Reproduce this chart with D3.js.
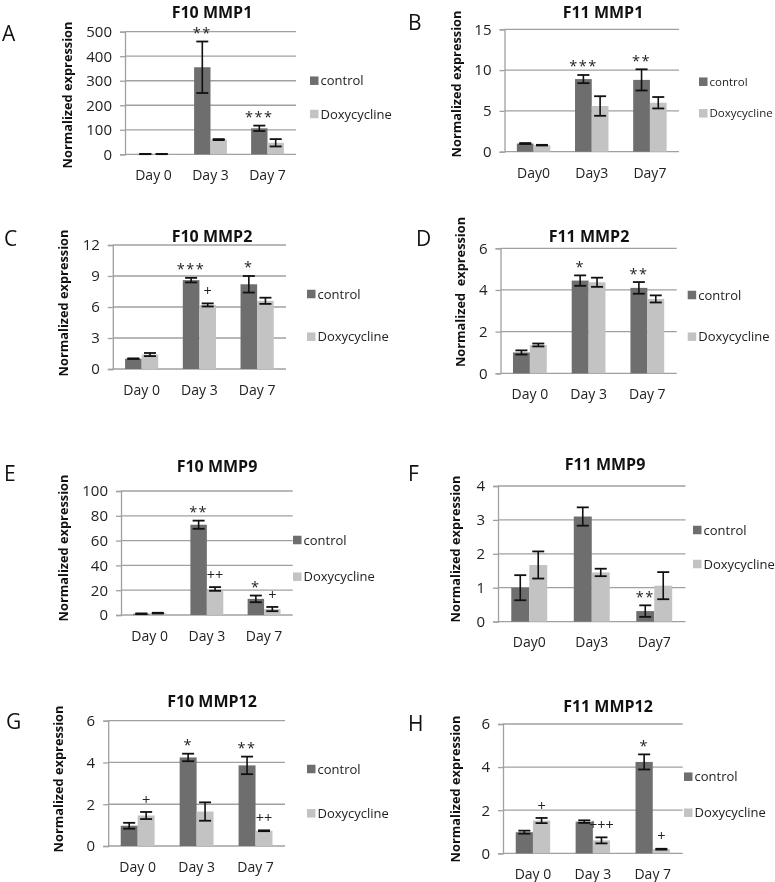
<!DOCTYPE html>
<html><head><meta charset="utf-8">
<script src="https://cdn.jsdelivr.net/npm/d3@7"></script>
<style>body{margin:0;background:#fff} svg{display:block; will-change: transform;}</style>
</head><body><svg id="c" width="775" height="882"></svg>
<script>
// ---------- data ----------
const seriesNames = ["control", "Doxycycline"];
const daysSpaced = ["Day 0", "Day 3", "Day 7"];
const daysCompact = ["Day0", "Day3", "Day7"];

// A  F10 MMP1
const f10Mmp1Ticks = [0, 100, 200, 300, 400, 500];
const f10Mmp1Ctrl = [1, 355, 106];
const f10Mmp1CtrlErr = [0.5, 105, 11];
const f10Mmp1Dox = [1, 60, 47];
const f10Mmp1DoxErr = [0.5, 2, 15];
const f10Mmp1Marks = [["", ""], ["**", ""], ["***", ""]];

// B  F11 MMP1
const f11Mmp1Ticks = [0, 5, 10, 15];
const f11Mmp1Ctrl = [1.0, 8.9, 8.8];
const f11Mmp1CtrlErr = [0.06, 0.5, 1.3];
const f11Mmp1Dox = [0.8, 5.6, 6.0];
const f11Mmp1DoxErr = [0.04, 1.2, 0.7];
const f11Mmp1Marks = [["", ""], ["***", ""], ["**", ""]];

// C  F10 MMP2
const f10Mmp2Ticks = [0, 3, 6, 9, 12];
const f10Mmp2Ctrl = [1.0, 8.6, 8.2];
const f10Mmp2CtrlErr = [0.03, 0.22, 0.8];
const f10Mmp2Dox = [1.4, 6.2, 6.6];
const f10Mmp2DoxErr = [0.15, 0.15, 0.3];
const f10Mmp2Marks = [["", ""], ["***", "+"], ["*", ""]];

// D  F11 MMP2
const f11Mmp2Ticks = [0, 2, 4, 6];
const f11Mmp2Ctrl = [1.0, 4.45, 4.1];
const f11Mmp2CtrlErr = [0.1, 0.25, 0.28];
const f11Mmp2Dox = [1.36, 4.37, 3.57];
const f11Mmp2DoxErr = [0.07, 0.22, 0.17];
const f11Mmp2Marks = [["", ""], ["*", ""], ["**", ""]];

// E  F10 MMP9
const f10Mmp9Ticks = [0, 20, 40, 60, 80, 100];
const f10Mmp9Ctrl = [1, 72.8, 13];
const f10Mmp9CtrlErr = [0.3, 3.3, 2.7];
const f10Mmp9Dox = [1.5, 21, 4.8];
const f10Mmp9DoxErr = [0.3, 1.5, 1.7];
const f10Mmp9Marks = [["", ""], ["**", "++"], ["*", "+"]];

// F  F11 MMP9
const f11Mmp9Ticks = [0, 1, 2, 3, 4];
const f11Mmp9Ctrl = [1.0, 3.1, 0.31];
const f11Mmp9CtrlErr = [0.37, 0.27, 0.17];
const f11Mmp9Dox = [1.67, 1.45, 1.06];
const f11Mmp9DoxErr = [0.4, 0.11, 0.4];
const f11Mmp9Marks = [["", ""], ["", ""], ["**", ""]];

// G  F10 MMP12
const f10Mmp12Ticks = [0, 2, 4, 6];
const f10Mmp12Ctrl = [0.97, 4.24, 3.86];
const f10Mmp12CtrlErr = [0.14, 0.18, 0.42];
const f10Mmp12Dox = [1.46, 1.65, 0.73];
const f10Mmp12DoxErr = [0.17, 0.44, 0.02];
const f10Mmp12Marks = [["", "+"], ["*", ""], ["**", "++"]];

// H  F11 MMP12
const f11Mmp12Ticks = [0, 2, 4, 6];
const f11Mmp12Ctrl = [0.98, 1.47, 4.24];
const f11Mmp12CtrlErr = [0.07, 0.06, 0.35];
const f11Mmp12Dox = [1.52, 0.6, 0.19];
const f11Mmp12DoxErr = [0.12, 0.14, 0.02];
const f11Mmp12Marks = [["", "+"], ["", "+++"], ["*", "+"]];

// ---------- layout ----------
const panels = [
  {letter:"A", lx:2, ly:33, title:"F10 MMP1", tx:212, ty:12, left:125, right:296, top:31.7, bottom:154.3,
   ticks:f10Mmp1Ticks, cats:daysSpaced, ctrl:f10Mmp1Ctrl, ctrlErr:f10Mmp1CtrlErr, dox:f10Mmp1Dox, doxErr:f10Mmp1DoxErr, marks:f10Mmp1Marks,
   yt:"Normalized expression", ytx:68, yty:95, legX:310, legY1:80.7, legY2:114, legFs:13},
  {letter:"B", lx:408, ly:22, title:"F11 MMP1", tx:603, ty:12, left:504.5, right:679, top:29.3, bottom:151.7,
   ticks:f11Mmp1Ticks, cats:daysCompact, ctrl:f11Mmp1Ctrl, ctrlErr:f11Mmp1CtrlErr, dox:f11Mmp1Dox, doxErr:f11Mmp1DoxErr, marks:f11Mmp1Marks,
   yt:"Normalized expression", ytx:457, yty:84, legX:699, legY1:81.7, legY2:113.3, legFs:11.5},
  {letter:"C", lx:4, ly:238, title:"F10 MMP2", tx:212, ty:236.7, left:112.8, right:286, top:245, bottom:369,
   ticks:f10Mmp2Ticks, cats:daysSpaced, ctrl:f10Mmp2Ctrl, ctrlErr:f10Mmp2CtrlErr, dox:f10Mmp2Dox, doxErr:f10Mmp2DoxErr, marks:f10Mmp2Marks,
   yt:"Normalized expression", ytx:64, yty:303, legX:307, legY1:294, legY2:336.7, legFs:13},
  {letter:"D", lx:416, ly:238, title:"F11 MMP2", tx:589, ty:236.7, left:500.5, right:676.7, top:248.3, bottom:373.3,
   ticks:f11Mmp2Ticks, cats:daysSpaced, ctrl:f11Mmp2Ctrl, ctrlErr:f11Mmp2CtrlErr, dox:f11Mmp2Dox, doxErr:f11Mmp2DoxErr, marks:f11Mmp2Marks,
   yt:"Normalized  expression", ytx:461, yty:292, legX:687.7, legY1:295, legY2:336.7, legFs:13},
  {letter:"E", lx:4, ly:473, title:"F10 MMP9", tx:217, ty:466.7, left:121, right:292.7, top:491, bottom:615,
   ticks:f10Mmp9Ticks, cats:daysSpaced, ctrl:f10Mmp9Ctrl, ctrlErr:f10Mmp9CtrlErr, dox:f10Mmp9Dox, doxErr:f10Mmp9DoxErr, marks:f10Mmp9Marks,
   yt:"Normalized expression", ytx:64, yty:548, legX:293, legY1:540, legY2:576.7, legFs:13},
  {letter:"F", lx:408, ly:473, title:"F11 MMP9", tx:605, ty:464, left:498, right:685.5, top:486, bottom:621.6,
   ticks:f11Mmp9Ticks, cats:daysCompact, ctrl:f11Mmp9Ctrl, ctrlErr:f11Mmp9CtrlErr, dox:f11Mmp9Dox, doxErr:f11Mmp9DoxErr, marks:f11Mmp9Marks,
   yt:"Normalized expression", ytx:456, yty:549, legX:693, legY1:530, legY2:564, legFs:13},
  {letter:"G", lx:6, ly:721.7, title:"F10 MMP12", tx:212, ty:701.7, left:108.2, right:285, top:720.7, bottom:846,
   ticks:f10Mmp12Ticks, cats:daysSpaced, ctrl:f10Mmp12Ctrl, ctrlErr:f10Mmp12CtrlErr, dox:f10Mmp12Dox, doxErr:f10Mmp12DoxErr, marks:f10Mmp12Marks,
   yt:"Normalized expression", ytx:59, yty:779, legX:307, legY1:769, legY2:813.3, legFs:13},
  {letter:"H", lx:408, ly:723, title:"F11 MMP12", tx:608, ty:706.7, left:503, right:682.7, top:724, bottom:853.3,
   ticks:f11Mmp12Ticks, cats:daysSpaced, ctrl:f11Mmp12Ctrl, ctrlErr:f11Mmp12CtrlErr, dox:f11Mmp12Dox, doxErr:f11Mmp12DoxErr, marks:f11Mmp12Marks,
   yt:"Normalized expression", ytx:456, yty:789, legX:684, legY1:776.7, legY2:812.7, legFs:13}
];

const colors = d3.scaleOrdinal().domain(seriesNames).range(["#6e6e6e", "#c3c3c3"]);
const FONT = "'Open Sans', 'DejaVu Sans', sans-serif";
const gridColor = "#a0a0a0";
const svg = d3.select("#c").style("font-family", FONT);

panels.forEach(p => {
  const g = svg.append("g");
  const x0 = d3.scaleBand().domain(p.cats).range([p.left, p.right]).paddingInner(0.425).paddingOuter(0.2125);
  const x1 = d3.scaleBand().domain(seriesNames).range([0, x0.bandwidth()]);
  const y = d3.scaleLinear().domain([0, d3.max(p.ticks)]).range([p.bottom, p.top]);

  // gridlines
  g.append("g").selectAll("line").data(p.ticks).join("line")
    .attr("x1", p.left).attr("x2", p.right)
    .attr("y1", d => y(d)).attr("y2", d => y(d))
    .attr("stroke", gridColor).attr("stroke-width", 1.3);

  // y axis
  const ya = g.append("g").attr("transform", `translate(${p.left},0)`)
    .call(d3.axisLeft(y).tickValues(p.ticks).tickSize(5).tickPadding(8).tickFormat(d3.format("d")));
  ya.select(".domain").attr("stroke", gridColor).attr("stroke-width", 1.3);
  ya.selectAll(".tick line").attr("stroke", gridColor).attr("stroke-width", 1.3);
  ya.selectAll(".tick text").attr("font-size", 15).attr("font-family", FONT).attr("fill", "#222");

  // x axis labels
  const xa = g.append("g").attr("transform", `translate(0,${p.bottom})`)
    .call(d3.axisBottom(x0).tickSize(0));
  xa.select(".domain").remove();
  xa.selectAll(".tick text").attr("y", 21).attr("dy", "0.35em")
    .attr("font-size", 14).attr("font-family", FONT).attr("fill", "#222");

  // bars
  const rows = p.cats.map((c, i) => ({
    cat: c,
    vals: [
      {s: seriesNames[0], v: p.ctrl[i], e: p.ctrlErr[i], m: p.marks[i][0]},
      {s: seriesNames[1], v: p.dox[i], e: p.doxErr[i], m: p.marks[i][1]}
    ]
  }));
  const grp = g.append("g").selectAll("g").data(rows).join("g")
    .attr("transform", d => `translate(${x0(d.cat)},0)`);
  grp.selectAll("rect").data(d => d.vals).join("rect")
    .attr("x", d => x1(d.s)).attr("width", x1.bandwidth())
    .attr("y", d => y(d.v)).attr("height", d => y(0) - y(d.v))
    .attr("fill", d => colors(d.s));

  // error bars
  const cap = 6;
  const eb = grp.selectAll("g.eb").data(d => d.vals).join("g").attr("class", "eb")
    .attr("transform", d => `translate(${x1(d.s) + x1.bandwidth() / 2},0)`);
  eb.append("line").attr("y1", d => y(d.v + d.e)).attr("y2", d => y(Math.max(0, d.v - d.e)))
    .attr("stroke", "#111").attr("stroke-width", 1.6);
  eb.append("line").attr("x1", -cap).attr("x2", cap).attr("y1", d => y(d.v + d.e)).attr("y2", d => y(d.v + d.e))
    .attr("stroke", "#111").attr("stroke-width", 1.8);
  eb.append("line").attr("x1", -cap).attr("x2", cap).attr("y1", d => y(Math.max(0, d.v - d.e))).attr("y2", d => y(Math.max(0, d.v - d.e)))
    .attr("stroke", "#111").attr("stroke-width", 1.8);

  // significance marks
  eb.filter(d => d.m).append("text")
    .attr("text-anchor", "middle")
    .attr("y", d => y(d.v + d.e) - 12.5 + (d.m.includes("*") ? 0.62 : 0.36) * 14.5)
    .attr("font-size", 14.5)
    .attr("fill", "#222")
    .attr("letter-spacing", d => d.m.includes("*") ? 1.5 : 0)
    .text(d => d.m);

  // title
  g.append("text").attr("x", p.tx).attr("y", p.ty).attr("dy", "0.35em").attr("text-anchor", "middle")
    .attr("font-size", 16).attr("font-weight", "bold").attr("fill", "#111").text(p.title);

  // panel letter
  g.append("text").attr("x", p.lx).attr("y", p.ly).attr("dy", "0.36em")
    .attr("font-size", 21).attr("fill", "#111").text(p.letter);

  // y title
  g.append("text").attr("transform", `translate(${p.ytx},${p.yty}) rotate(-90)`)
    .attr("text-anchor", "middle").attr("dy", "0.35em")
    .attr("font-size", 12.8).attr("font-weight", "bold").attr("fill", "#111")
    .style("white-space", "pre").text(p.yt);

  // legend
  const leg = g.append("g").selectAll("g").data(seriesNames).join("g")
    .attr("transform", (d, i) => `translate(${p.legX},${i === 0 ? p.legY1 : p.legY2})`);
  leg.append("rect").attr("x", 0).attr("y", -4.25).attr("width", 8.5).attr("height", 8.5).attr("fill", d => colors(d));
  leg.append("text").attr("x", 10.5).attr("dy", "0.35em").attr("font-size", p.legFs).attr("fill", "#222").text(d => d);
});
</script>
</body></html>
